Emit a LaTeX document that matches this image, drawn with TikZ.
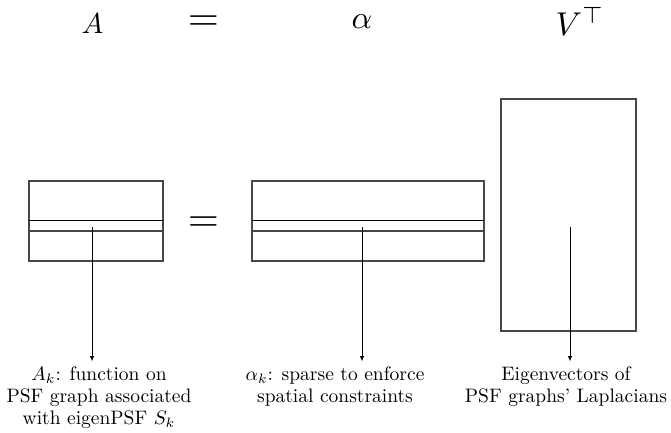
\documentclass[tikz,border=0pt]{standalone}
\usetikzlibrary{arrows.meta,calc}
\begin{document}
\begin{tikzpicture}[x=1pt,y=-1pt,
  mat/.style={draw=black!72,line width=1.4pt},
  bandtop/.style={draw=black,line width=1.1pt},
  bandlow/.style={draw=black!72,line width=1.4pt},
  pointer/.style={line width=1pt,-{Latex[length=5.5pt,width=4.5pt]}},
  bigmath/.style={anchor=base,inner sep=0pt,transform shape,font=\fontsize{10}{12}\selectfont},
  lab/.style={align=center,anchor=north,inner sep=0pt,scale=1.95,transform shape,
              font=\fontsize{10}{11.3}\selectfont}]
\useasboundingbox (0,0) rectangle (671,432);
% top row
\node[bigmath,scale=2.9] (tA) at (92.5,33) {$A$};
\node[bigmath,scale=4.0] (teq) at (203.5,30) {$=$};
\node[bigmath,scale=3.2] (talpha) at (362,28) {$\alpha$};
\node[bigmath,scale=3.3] (tV) at (580,35) {$V^{\top}$};
% matrices
\draw[mat] (29,181) rectangle (163,261);
\draw[bandtop] (29,220.5) -- (163,220.5);
\draw[bandlow] (29,231) -- (163,231);
\node[bigmath,scale=4.0] (meq) at (203.5,231.5) {$=$};
\draw[mat] (252,181) rectangle (484,261);
\draw[bandtop] (252,220.5) -- (484,220.5);
\draw[bandlow] (252,231) -- (484,231);
\draw[mat] (501,99) rectangle (636,331);
% pointer anchors
\coordinate (pA) at (92,227);
\coordinate (pB) at (362,227);
\coordinate (pC) at (570,227);
% labels
\node[lab] (lA) at (99,366) {$A_k$: function on\\PSF graph associated\\with eigenPSF $S_k$};
\node[lab] (lB) at (335,366) {$\alpha_k$: sparse to enforce\\spatial constraints};
\node[lab] (lC) at (566,366) {Eigenvectors of\\PSF graphs' Laplacians};
\draw[pointer] (pA) -- ($(pA |- lA.north)+(0,-4.5)$);
\draw[pointer] (pB) -- ($(pB |- lB.north)+(0,-4.5)$);
\draw[pointer] (pC) -- ($(pC |- lC.north)+(0,-4.5)$);
\end{tikzpicture}
\end{document}
